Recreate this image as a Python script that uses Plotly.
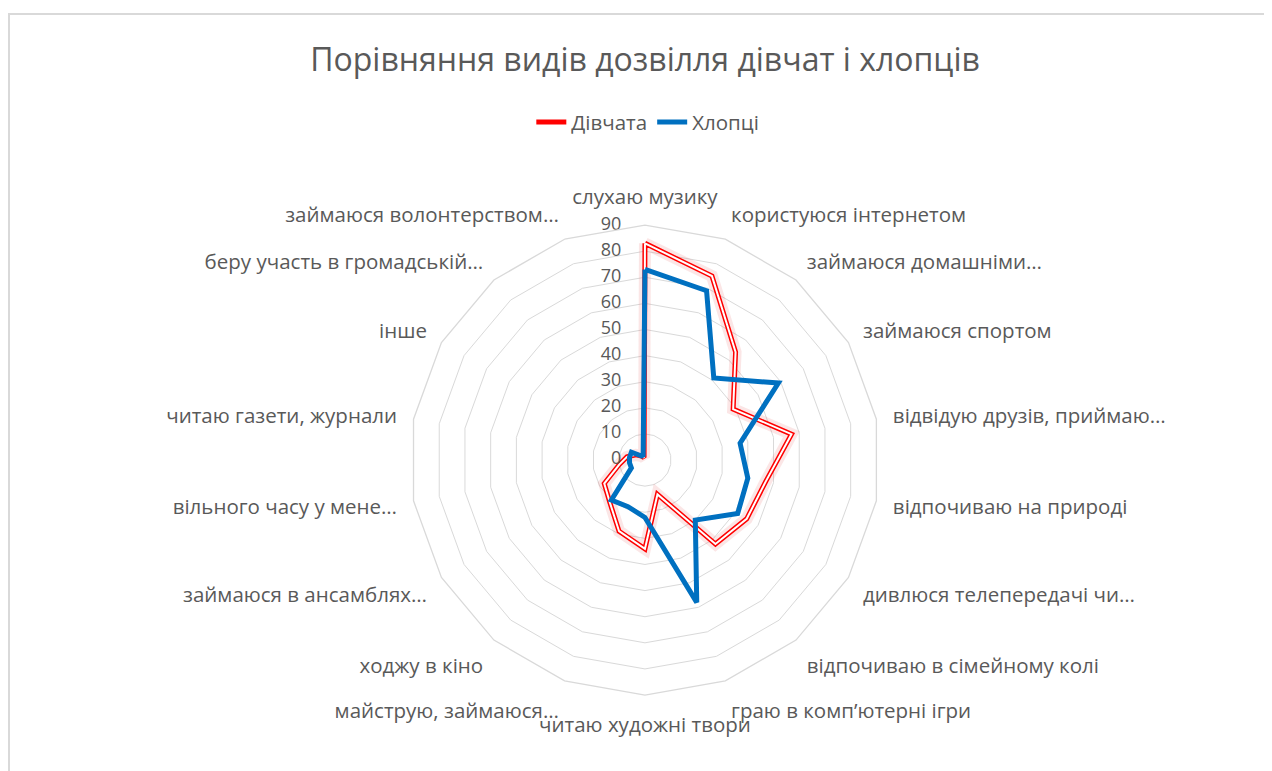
import plotly.graph_objects as go

categories = ["слухаю музику", "користуюся інтернетом", "займаюся домашніми…",
              "займаюся спортом", "відвідую друзів, приймаю…", "відпочиваю на природі",
              "дивлюся телепередачі чи…", "відпочиваю в сімейному колі",
              "граю в комп’ютерні ігри", "читаю художні твори", "майструю, займаюся…",
              "ходжу в кіно", "займаюся в ансамблях…", "вільного часу у мене…",
              "читаю газети, журнали", "інше", "беру участь в громадській…",
              "займаюся волонтерством…"]
girls = [83, 75, 54, 39, 57, 47, 45, 42, 14, 34, 29, 21, 18, 10, 7, 4, 2, 1]
boys = [73, 69, 41, 59, 37, 40, 41, 30, 58, 22, 19, 20, 6, 6, 6, 6, 2, 2]
radial_ticks = [0, 10, 20, 30, 40, 50, 60, 70, 80, 90]

# close the loops
cat_c = categories + categories[:1]
girls_c = girls + girls[:1]
boys_c = boys + boys[:1]

grey = "#595959"
fs = 20.5
fig = go.Figure()
# soft glow under the red double line
fig.add_trace(go.Scatterpolar(r=girls_c, theta=cat_c, mode="lines",
                              line=dict(color="rgba(230,80,80,0.14)", width=12),
                              showlegend=False, hoverinfo="skip"))
fig.add_trace(go.Scatterpolar(r=girls_c, theta=cat_c, mode="lines", name="Дівчата",
                              line=dict(color="#ff0000", width=5)))
fig.add_trace(go.Scatterpolar(r=girls_c, theta=cat_c, mode="lines",
                              line=dict(color="white", width=2),
                              showlegend=False, hoverinfo="skip"))
fig.add_trace(go.Scatterpolar(r=boys_c, theta=cat_c, mode="lines", name="Хлопці",
                              line=dict(color="#0070c0", width=5)))

# radial value labels, right aligned left of the vertical axis like Excel does
# (figure spaces keep a gap from the axis; a point sitting exactly on r=0 gets dropped)
fig.add_trace(go.Scatterpolar(r=[max(v, 0.05) for v in radial_ticks],
                              theta=[categories[0]] * len(radial_ticks),
                              mode="text",
                              text=[f"{v}\u2007\u2007\u2009" for v in radial_ticks],
                              textposition="middle left",
                              textfont=dict(size=18, color=grey),
                              showlegend=False, hoverinfo="skip"))

fig.update_layout(
    width=1272, height=771,
    margin=dict(l=0, r=0, t=0, b=0),
    paper_bgcolor="white",
    font=dict(family="Open Sans", color=grey, size=fs),
    title=dict(text="Порівняння видів дозвілля дівчат і хлопців",
               x=0.5008, xanchor="center", y=0.9326, yanchor="middle",
               font=dict(size=32, color=grey)),
    legend=dict(orientation="h", x=0.503, xanchor="center", y=0.852, yanchor="middle",
                font=dict(size=fs, color=grey)),
    polar=dict(
        domain=dict(x=[0.3160, 0.6855], y=[0.1089, 0.7185]),
        bgcolor="white",
        gridshape="linear",
        angularaxis=dict(direction="clockwise", rotation=90, showgrid=False,
                         linecolor="#d9d9d9", linewidth=1.3,
                         ticks="outside", ticklen=12, tickcolor="rgba(0,0,0,0)",
                         tickfont=dict(size=fs, color=grey)),
        radialaxis=dict(range=[0, 90], dtick=10, angle=90,
                        showline=False, showticklabels=False, ticks="",
                        gridcolor="#d9d9d9", gridwidth=1.3),
    ),
    shapes=[dict(type="rect", xref="paper", yref="paper",
                 x0=0.0008, x1=1.05, y0=-0.05, y1=0.9922,
                 line=dict(color="#d9d9d9", width=2), layer="below")],
)

fig.write_html("out.html")
